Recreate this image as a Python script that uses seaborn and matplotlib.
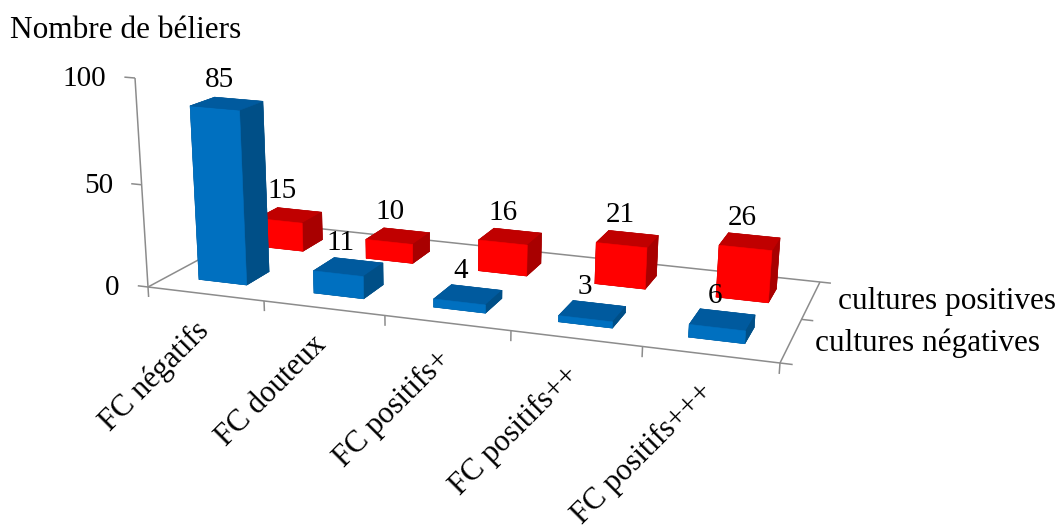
import numpy as np
import matplotlib
matplotlib.use("Agg")
import matplotlib.pyplot as plt
import seaborn as sns
from mpl_toolkits.mplot3d import Axes3D  # noqa: F401
from mpl_toolkits.mplot3d.art3d import Line3DCollection

sns.set_theme(style="white")
plt.rcParams['font.family'] = ['Liberation Serif', 'DejaVu Serif']

categories = ["FC négatifs", "FC douteux", "FC positifs+", "FC positifs++", "FC positifs+++"]
series_names = ["cultures négatives", "cultures positives"]
negatives = [85, 11, 4, 3, 6]
positives = [15, 10, 16, 21, 26]
y_ticks = [0, 50, 100]

WIDTH, HEIGHT = 1062, 528
n_cat, n_row = len(categories), len(series_names)

# Camera: floor corners and the vertical vanishing point, in pixels from the top-left
floor_src = [(0, 0), (n_cat, 0), (n_cat, n_row), (0, n_row)]
floor_dst = [(148, 287), (780, 363), (820, 282), (267, 223)]
vanish = np.array([441.0, 5000.0, 1.0])
z_scale = -4.246e-4


def build_camera():
    rows, rhs = [], []
    for (x, y), (u, v) in zip(floor_src, floor_dst):
        rows.append([x, y, 1, 0, 0, 0, -u * x, -u * y])
        rows.append([0, 0, 0, x, y, 1, -v * x, -v * y])
        rhs += [u, v]
    h = np.append(np.linalg.solve(np.array(rows, float), np.array(rhs, float)), 1.0).reshape(3, 3)
    return np.column_stack([h[:, 0], h[:, 1], z_scale * vanish, h[:, 2]])


P = build_camera()


def to_pixels(x, y, z):
    u, v, w = P @ np.array([x, y, z, 1.0])
    return u / w, v / w


fig = plt.figure(figsize=(WIDTH / 100, HEIGHT / 100), dpi=100)
ax = fig.add_axes([0, 0, 1, 1], projection="3d")
ax.set_axis_off()
ax.computed_zorder = False
ax.set_xlim(0, n_cat)
ax.set_ylim(0, n_row)
ax.set_zlim(0, 100)


def camera_proj():
    to_axes = ax.transData.inverted().get_matrix()
    flip = np.array([[1, 0, 0], [0, -1, HEIGHT], [0, 0, 1]], float)
    q = to_axes @ flip @ P
    depth = P[2] - np.array([0, 0, 0, 1.0])
    return np.vstack([q[0], q[1], depth, P[2]])


# Use the fixed camera and let the panel fill the whole figure
ax.get_proj = camera_proj
ax.apply_aspect = lambda position=None: None


def px_text(u, v, s, **kw):
    fig.text(u / WIDTH, 1 - v / HEIGHT, s, color="black", zorder=50, **kw)


# Floor outline, vertical axis and tick marks
segments = [
    [(0, 0, 0), (n_cat, 0, 0)],
    [(n_cat, 0, 0), (n_cat, n_row, 0)],
    [(0, n_row, 0), (n_cat, n_row, 0)],
    [(0, 0, 0), (0, n_row, 0)],
    [(0, 0, 0), (0, 0, 100)],
]
segments += [[(i, 0, 0), (i, 0, -5)] for i in range(n_cat + 1)]
segments += [[(n_cat, j, 0), (n_cat + 0.09, j, 0)] for j in range(n_row + 1)]
segments += [[(0, 0, v), (-0.09, 0, v)] for v in y_ticks]
ax.add_collection3d(Line3DCollection(segments, colors="#8c8c8c", linewidths=1.1, zorder=1), autolim=False)

for v in y_ticks:
    u_t, v_t = to_pixels(-0.09, 0, v)
    px_text(u_t - 18, v_t + 2, str(v), ha="right", va="center", fontsize=21)

bar_w, bar_d = 0.42, 0.38
bar_shift = -0.02
styles = [
    # bottom, top, front, back, left, right
    (negatives, 0, ["#004f87", "#005a9e", "#0070c0", "#004f87", "#004f87", "#004f87"]),
    (positives, 1, ["#a80000", "#c00000", "#ff0000", "#a80000", "#a80000", "#a80000"]),
]
for vals, row, cols in reversed(styles):
    for i, val in enumerate(vals):
        x0, y0 = i + (1 - bar_w) / 2 + bar_shift, row + (1 - bar_d) / 2
        ax.bar3d(x0, y0, 0, bar_w, bar_d, val, color=cols, shade=False,
                 edgecolor=cols, linewidth=0.4, zorder=5 + (1 - row) * 10 + i, zsort="average")
        u_t, v_t = to_pixels(i + 0.5, row + 0.5, val)
        px_text(u_t - 10, v_t - 24, str(val), ha="center", va="center", fontsize=21)

for i, c in enumerate(categories):
    u_t, v_t = to_pixels(i + 0.55, 0, -5)
    px_text(u_t - 18, v_t + 11, c, rotation=45, ha="right", va="top", rotation_mode="anchor", fontsize=22)

px_text(10, 30, "Nombre de béliers", fontsize=22.5, va="center")
px_text(838, 302, series_names[1], fontsize=22.5, va="center")
px_text(815, 343, series_names[0], fontsize=22.5, va="center")
fig.savefig("out.png", dpi=100)
